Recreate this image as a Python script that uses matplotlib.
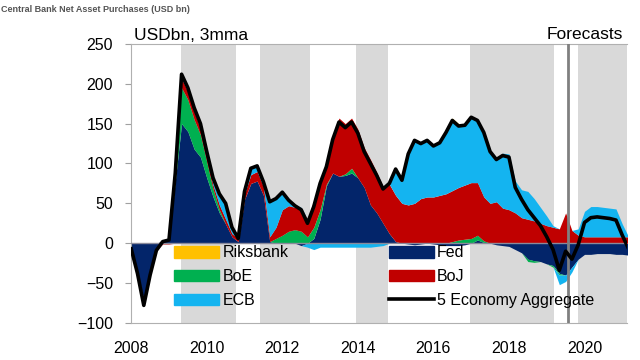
import numpy as np
import matplotlib
matplotlib.use("Agg")
import matplotlib.pyplot as plt
from matplotlib.patches import Patch
from matplotlib.lines import Line2D

plt.rcParams['font.family'] = ['Liberation Sans', 'DejaVu Sans']

# compras netas por banco central (USD bn, 3mma), un valor cada dos meses desde 2008
fed = [-5, -35, -72, -36, -7, 3, 5, 78, 150, 140,
       118, 108, 82, 58, 38, 24, 8, 2, 55, 75,
       78, 60, 2, 0, 0, 0, 0, -3, 0, 6,
       30, 72, 88, 84, 85, 88, 82, 70, 48, 38,
       25, 12, 2, 0, -1, -2, -1, 0, -1, -2,
       -3, -3, -3, -2, 0, 4, 1, 0, -2, -3,
       -4, -8, -12, -20, -22, -23, -26, -28, -38, -40,
       -30, -20, -14, -14, -13, -13, -13, -14, -14, -15]
boe = [0, 0, 0, 0, 0, 0, 0, 6, 45, 40,
       37, 28, 20, 10, 4, 0, 0, 0, 0, 0,
       0, 0, 0, 6, 10, 15, 17, 15, 8, 14,
       12, 2, 0, 0, 2, 6, 0, 0, 0, 0,
       0, 0, 0, 0, 0, 0, 0, 0, 0, 0,
       0, 2, 4, 5, 6, 6, 2, 0, 0, 0,
       0, 0, 0, -3, -2, 0, 0, -2, -2, 0,
       0, 0, 0, 0, 0, 0, 0, 0, 0, 0]
boj = [-2, -3, -6, -4, -2, -1, -1, 4, 12, 10,
       10, 8, 6, 5, 6, 6, 4, 4, 7, 11,
       12, 11, 6, 14, 32, 32, 28, 28, 22, 34,
       38, 27, 47, 73, 63, 63, 61, 50, 57, 51,
       46, 62, 58, 50, 48, 50, 56, 58, 58, 60,
       62, 64, 66, 68, 70, 66, 55, 50, 52, 44,
       42, 38, 32, 30, 28, 25, 22, 20, 18, 38,
       16, 10, 8, 8, 8, 8, 8, 8, 8, 8]
ecb = [0, 0, 0, 0, 0, 0, 0, 0, 5, 5,
       5, 6, 7, 9, 14, 20, 8, 0, 3, 8,
       7, 6, 44, 36, 22, 7, 2, 2, -5, -8,
       -5, -5, -5, -5, -5, -5, -5, -5, -5, -4,
       -3, 1, 32, 28, 64, 80, 69, 70, 64, 67,
       79, 90, 79, 76, 81, 77, 80, 65, 55, 69,
       70, 40, 35, 35, 28, 20, 12, 2, -12, -8,
       -6, 8, 32, 38, 38, 37, 36, 35, 16, 0]
riksbank = [0, 0, 0, 0, 0, 0, 0, 0, 0, 0,
            0, 0, 0, 0, 0, 0, 0, 0, 0, 0,
            0, 0, 0, 0, 0, 0, 0, 0, 0, 0,
            0, 0, 0, 0, 0, 0, 0, 0, 0, 0,
            0, 0, 1, 1, 1, 1, 1, 1, 1, 1,
            1, 1, 1, 1, 1, 1, 1, 0, 0, 0,
            0, 0, 0, 0, 0, 0, 0, 0, 0, 0,
            0, 0, 0, 0, 0, 0, 0, 0, 0, 0]

# periodos sombreados y fecha de inicio de previsiones
bandas = [(2009.32, 2010.78), (2011.42, 2012.72), (2013.94, 2014.81),
          (2016.97, 2019.2), (2019.82, 2021.3)]
inicio_prevision = 2019.55

fechas = 2008 + np.arange(len(fed)) / 6

fig, ax = plt.subplots(figsize=(6.4, 3.6), dpi=100)
fig.subplots_adjust(left=0.205, right=0.98, bottom=0.103, top=0.878)

for a, b in bandas:
    ax.axvspan(a, b, color='#d9d9d9', lw=0, zorder=0)

# areas apiladas, positivos hacia arriba y negativos hacia abajo
series = [(fed, '#03256a'), (boe, '#00b050'), (boj, '#c00000'),
          (ecb, '#14b4f0'), (riksbank, '#ffc000')]
base_pos = np.zeros(len(fechas))
base_neg = np.zeros(len(fechas))
for vals, color in series:
    v = np.array(vals, dtype=float)
    p = np.clip(v, 0, None)
    q = np.clip(v, None, 0)
    ax.fill_between(fechas, base_pos, base_pos + p, color=color, lw=0, zorder=2)
    ax.fill_between(fechas, base_neg, base_neg + q, color=color, lw=0, zorder=2)
    base_pos = base_pos + p
    base_neg = base_neg + q

total = base_pos + base_neg
ax.axhline(0, color='#8a8a9a', lw=1, zorder=3)
ax.plot(fechas, total, color='black', lw=2.6, zorder=4)
ax.axvline(inicio_prevision, color='#808080', lw=2, zorder=3)

ax.set_xlim(2008, 2021.13)
ax.set_ylim(-100, 250)
ax.set_yticks(range(-100, 251, 50))
ax.set_xticks(range(2008, 2021, 2))
ax.tick_params(labelsize=11.5, color='#a0a0a0', length=4)
ax.tick_params(axis='y', pad=9)
ax.tick_params(axis='x', length=0, pad=13)
for s in ['left', 'bottom', 'top']:
    ax.spines[s].set_color('#b0b0b0')
ax.spines['right'].set_visible(False)

ax.text(0.005, 1.005, 'USDbn, 3mma', transform=ax.transAxes, fontsize=12.5,
        va='bottom', ha='left')
ax.text(2020.0, 252, 'Forecasts', fontsize=12.5, va='bottom', ha='center')
fig.text(0.002, 0.985, 'Central Bank Net Asset Purchases (USD bn)', fontsize=6.5,
         color='#555555', fontweight='bold', va='top', ha='left')

handles = [Patch(color='#ffc000', label='Riksbank'),
           Patch(color='#00b050', label='BoE'),
           Patch(color='#14b4f0', label='ECB'),
           Patch(color='#03256a', label='Fed'),
           Patch(color='#c00000', label='BoJ'),
           Line2D([], [], color='black', lw=2.6, label='5 Economy Aggregate')]
ax.legend(handles=handles, ncol=2, loc='upper left', bbox_to_anchor=(0.087, 0.278),
          frameon=False, fontsize=11.5, handlelength=2.8, handleheight=0.75,
          handletextpad=0.2, labelspacing=0.55, columnspacing=6.3,
          borderaxespad=0, borderpad=0)

fig.savefig('out.png', dpi=100)
